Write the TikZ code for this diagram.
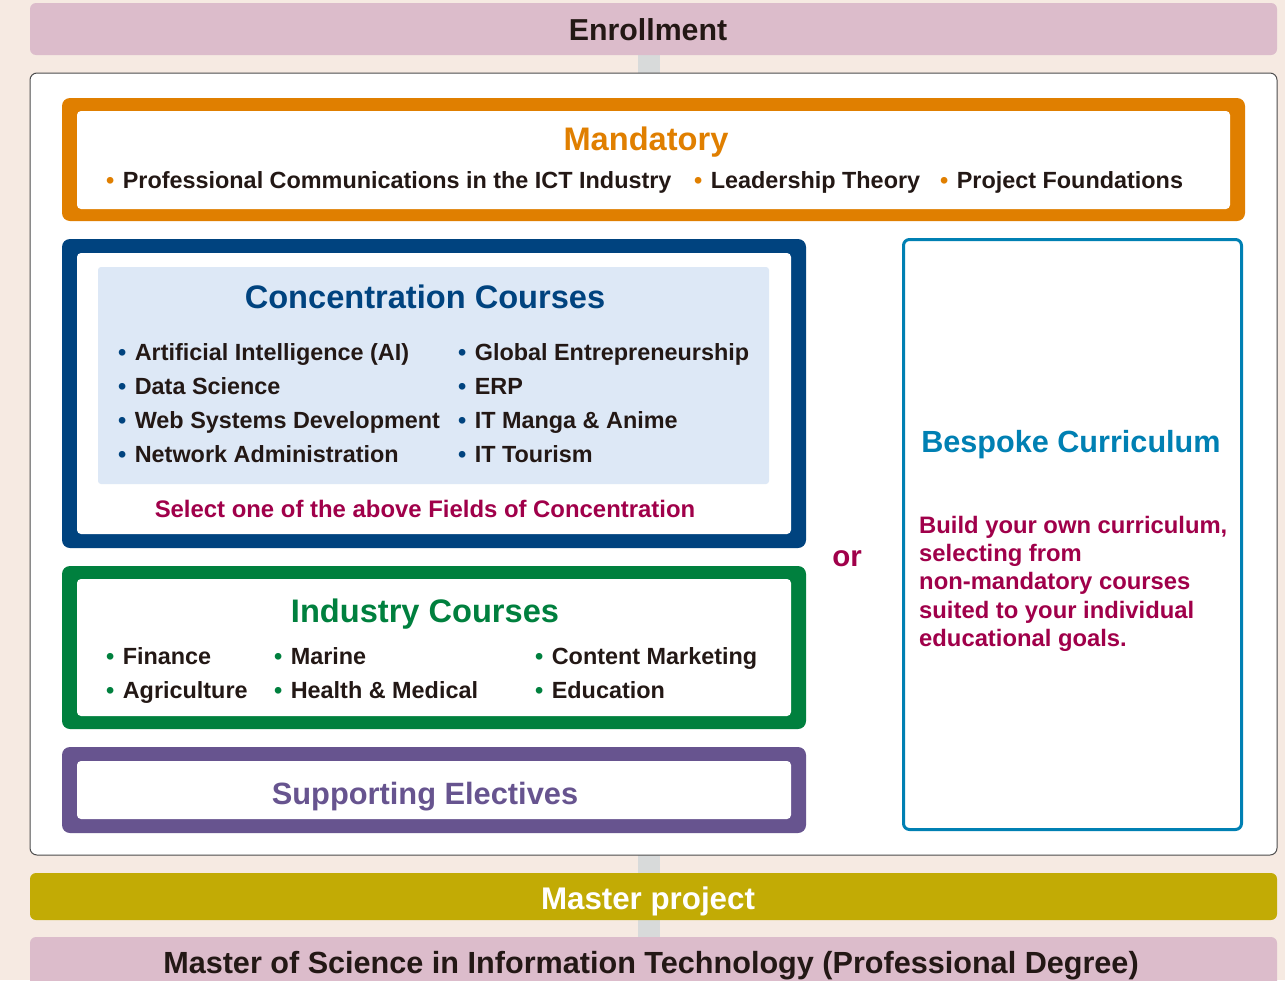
\documentclass[tikz,border=0pt]{standalone}
\usepackage{fontspec}
\setmainfont{Liberation Sans}
\definecolor{bgc}{HTML}{F6EAE2}
\definecolor{pinkc}{HTML}{DCBCCB}
\definecolor{stripc}{HTML}{D8DADA}
\definecolor{orangec}{HTML}{E07F00}
\definecolor{navyc}{HTML}{00437F}
\definecolor{lbluec}{HTML}{DDE8F6}
\definecolor{greenc}{HTML}{00803E}
\definecolor{purplec}{HTML}{67548F}
\definecolor{crimc}{HTML}{A0004A}
\definecolor{bluec}{HTML}{0080B3}
\definecolor{olivec}{HTML}{C2AB05}
\definecolor{darkc}{HTML}{231815}
\newcommand{\mkbox}[6]{\node[#6, inner sep=0pt, outer sep=0pt, minimum width={#4-#2}, minimum height={#5-#3}] (#1) at ({(#2+#4)/2},{(#3+#5)/2}) {};}
\newcommand{\itm}[2]{{\color{#1}•}\hspace{0.36em}#2}
\tikzset{
  fsz/.style={font=\fontsize{#1}{#1}\selectfont\bfseries},
  ttl/.style={fsz=32.6, anchor=base},
  itext/.style={fsz=23.4, anchor=base west, text=darkc, inner sep=0pt},
  btext/.style={fsz=23.8, anchor=base west, text=crimc, inner sep=0pt},
  bar/.style={fill=#1, rounded corners=6pt},
}
\begin{document}
\begin{tikzpicture}[x=1pt,y=-1pt]
\fill[bgc] (0,0) rectangle (1285,980);
\useasboundingbox (0,0) rectangle (1285,980);
% grey strip
\fill[stripc] (638,50) rectangle (660,980);
% enrollment
\mkbox{enr}{30}{3}{1277}{55}{bar=pinkc}
\node[fsz=30.3, anchor=base, text=darkc] (enrT) at (648,40) {Enrollment};
% main box
\mkbox{main}{30}{73}{1277}{855}{fill=white, draw=black!70, line width=1pt, rounded corners=7pt}
% mandatory
\mkbox{mandO}{62}{98}{1245}{221}{fill=orangec, rounded corners=8pt}
\mkbox{mandI}{77}{111}{1230}{209}{fill=white, rounded corners=4pt}
\node[ttl, text=orangec] (mandT) at (646,150.5) {Mandatory};
\node[itext] (m1) at (106,188) {\itm{orangec}{Professional Communications in the ICT Industry}};
\node[itext] (m2) at (694,188) {\itm{orangec}{Leadership Theory}};
\node[itext] (m3) at (940,188) {\itm{orangec}{Project Foundations}};
% concentration
\mkbox{concO}{62}{239}{806}{548}{fill=navyc, rounded corners=8pt}
\mkbox{concI}{77}{253}{791}{534}{fill=white, rounded corners=4pt}
\mkbox{concL}{98}{267}{769}{484}{fill=lbluec, rounded corners=3pt}
\node[ttl, text=navyc] (concT) at (425,308.5) {Concentration Courses};
\node[itext] (c1) at (118,360) {\itm{navyc}{Artificial Intelligence (AI)}};
\node[itext] (c2) at (118,394) {\itm{navyc}{Data Science}};
\node[itext] (c3) at (118,428) {\itm{navyc}{Web Systems Development}};
\node[itext] (c4) at (118,462) {\itm{navyc}{Network Administration}};
\node[itext] (c5) at (458,360) {\itm{navyc}{Global Entrepreneurship}};
\node[itext] (c6) at (458,394) {\itm{navyc}{ERP}};
\node[itext] (c7) at (458,428) {\itm{navyc}{IT Manga \& Anime}};
\node[itext] (c8) at (458,462) {\itm{navyc}{IT Tourism}};
\node[fsz=23.9, anchor=base, text=crimc] (sel) at (425,517) {Select one of the above Fields of Concentration};
% industry
\mkbox{indO}{62}{566}{806}{729}{fill=greenc, rounded corners=8pt}
\mkbox{indI}{77}{579}{791}{716}{fill=white, rounded corners=4pt}
\node[ttl, text=greenc] (indT) at (425,622.5) {Industry Courses};
\node[itext] (i1) at (106,664) {\itm{greenc}{Finance}};
\node[itext] (i2) at (106,698) {\itm{greenc}{Agriculture}};
\node[itext] (i3) at (274,664) {\itm{greenc}{Marine}};
\node[itext] (i4) at (274,698) {\itm{greenc}{Health \& Medical}};
\node[itext] (i5) at (535,664) {\itm{greenc}{Content Marketing}};
\node[itext] (i6) at (535,698) {\itm{greenc}{Education}};
% supporting
\mkbox{supO}{62}{747}{806}{833}{fill=purplec, rounded corners=8pt}
\mkbox{supI}{77}{761}{791}{819}{fill=white, rounded corners=4pt}
\node[fsz=30.8, anchor=base, text=purplec] (supT) at (425,804) {Supporting Electives};
% or
\node[fsz=29.5, anchor=base, text=crimc] (or) at (847,566) {or};
% bespoke
\mkbox{besp}{903.5}{239.5}{1241.5}{829.5}{fill=white, draw=bluec, line width=3pt, rounded corners=6pt}
\node[fsz=30.6, anchor=base, text=bluec] (bespT) at (1071,452) {Bespoke Curriculum};
\node[btext] (b1) at (919,533) {Build your own curriculum,};
\node[btext] (b2) at (919,561) {selecting from};
\node[btext] (b3) at (919,589) {non-mandatory courses};
\node[btext] (b4) at (919,618) {suited to your individual};
\node[btext] (b5) at (919,646) {educational goals.};
% master project
\mkbox{mp}{30}{873}{1277}{920}{bar=olivec}
\node[fsz=31.3, anchor=base, text=white] (mpT) at (648,909) {Master project};
% degree
\mkbox{deg}{30}{937}{1277}{995}{bar=pinkc}
\node[fsz=30.6, anchor=base, text=darkc] (degT) at (651,973) {Master of Science in Information Technology (Professional Degree)};
\end{tikzpicture}
\end{document}
